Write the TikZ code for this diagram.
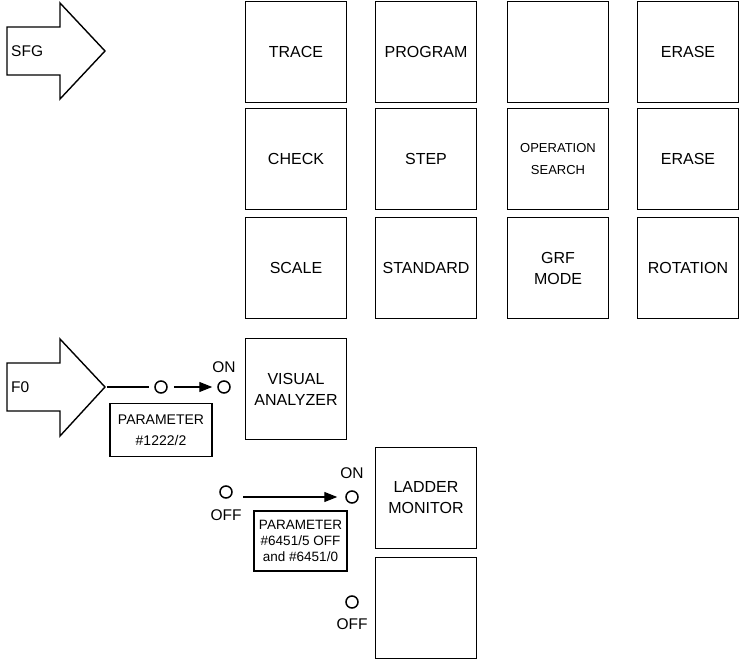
\documentclass[tikz,border=0pt]{standalone}
\usepackage{fontspec}
\setmainfont{Liberation Sans}
\usetikzlibrary{arrows.meta}
\begin{document}
\begin{tikzpicture}[x=1pt,y=-1pt,
  key/.style={draw, line width=1.4pt, minimum width=101pt, minimum height=101pt,
    inner sep=0pt, align=center, font=\fontsize{16}{21}\selectfont},
  smallkey/.style={key, font=\fontsize{13}{22}\selectfont},
  param/.style={draw, line width=1.4pt, align=center, inner sep=0pt},
  contact/.style={circle, draw, line width=1.5pt, minimum size=12pt, inner sep=0pt},
  lbl/.style={font=\fontsize{15.5}{18}\selectfont, inner sep=0pt},
  wire/.style={line width=1.4pt},
  tip/.style={-{Triangle[length=13pt,width=10pt]}},
  bigarrow/.style={draw, line width=1.4pt, line join=miter}
]
\useasboundingbox (0,0) rectangle (739,663);

% soft key grid
\node[key] (trace)    at (296,52)  {TRACE};
\node[key] (program)  at (426,52)  {PROGRAM};
\node[key] (blank)    at (558,52)  {};
\node[key] (erasea)   at (688,52)  {ERASE};
\node[key] (check)    at (296,159) {CHECK};
\node[key] (stepkey)  at (426,159) {STEP};
\node[smallkey] (opsearch) at (558,159) {OPERATION\\SEARCH};
\node[key] (eraseb)   at (688,159) {ERASE};
\node[key] (scale)    at (296,268) {SCALE};
\node[key] (standard) at (426,268) {STANDARD};
\node[key] (grfmode)  at (558,268) {GRF\\MODE};
\node[key] (rotation) at (688,268) {ROTATION};

\node[key] (visual) at (296,389) {VISUAL\\ANALYZER};
\node[key] (ladder) at (426,498) {LADDER\\MONITOR};
\node[key] (empty)  at (426,608) {};

% SFG block arrow
\draw[bigarrow] (7,27) -- (60,27) -- (60,3) -- (105,51) -- (60,99) -- (60,75) -- (7,75) -- cycle;
\coordinate (sfgtip) at (105,51);
\node[lbl, anchor=west] (sfg) at (11,51) {SFG};

% F0 block arrow
\draw[bigarrow] (7,363) -- (60,363) -- (60,339) -- (105,387) -- (60,436) -- (60,411) -- (7,411) -- cycle;
\coordinate (f0tip) at (105,387);
\node[lbl, anchor=west] (f0) at (11,387) {F0};

% switch for the visual analyzer
\node[contact] (c1)  at (161,387) {};
\node[contact] (on1) at (224,387) {};
\node[lbl] (on1lbl) at (224,367) {ON};
\draw[wire, shorten <=2pt, shorten >=5pt] (f0tip) -- (c1);
\draw[wire, tip, shorten <=6pt, shorten >=5pt] (c1) -- (on1);
\node[param, minimum width=102pt, minimum height=53pt,
  font=\fontsize{14}{21}\selectfont] (par1) at (161,430) {PARAMETER\\\#1222/2};

% switch for the ladder monitor
\node[contact] (off2) at (226,492) {};
\node[lbl] (off2lbl) at (226,515) {OFF};
\node[contact] (on2) at (352,497) {};
\node[lbl] (on2lbl) at (352,473) {ON};
\coordinate (sw2start) at (243,497);
\draw[wire, tip, shorten >=8pt] (sw2start) -- (on2);
\node[param, minimum width=93pt, minimum height=60pt,
  font=\fontsize{13.5}{16}\selectfont] (par2) at (300.5,541) {PARAMETER\\\#6451/5 OFF\\and \#6451/0};

% contact of the empty key
\node[contact] (off3) at (352,602) {};
\node[lbl] (off3lbl) at (352,624) {OFF};
\end{tikzpicture}
\end{document}
